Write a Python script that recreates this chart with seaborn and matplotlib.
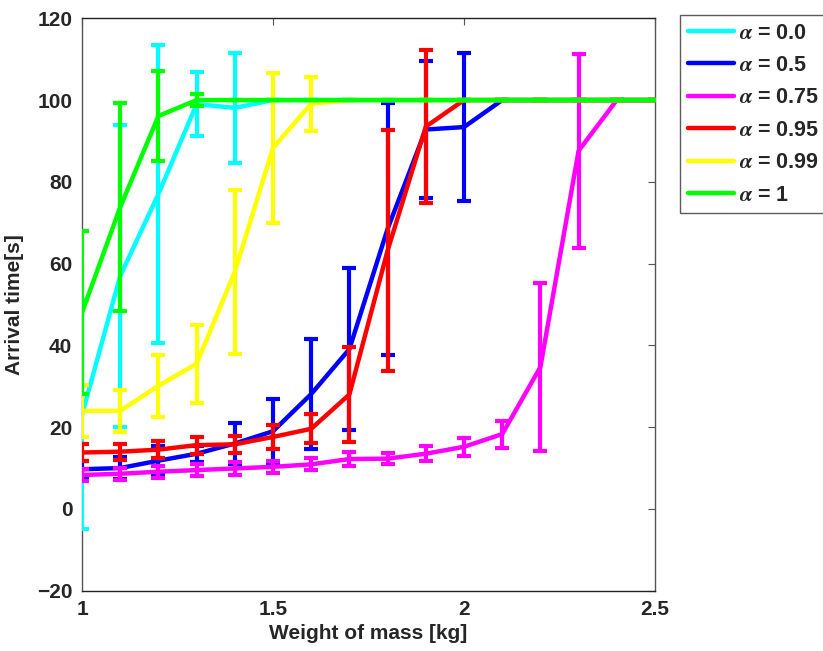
import numpy as np
import pandas as pd
import matplotlib
matplotlib.use("Agg")
import matplotlib.pyplot as plt
import seaborn as sns

# ---- data ----
weights = [1.0, 1.1, 1.2, 1.3, 1.4, 1.5, 1.6, 1.7, 1.8, 1.9, 2.0, 2.1, 2.2, 2.3, 2.4, 2.5]
labels = ["0.0", "0.5", "0.75", "0.95", "0.99", "1"]
colors = ["#00ffff", "#0000ff", "#ff00ff", "#ff0000", "#ffff00", "#00ff00"]

mean_a00 = [23, 57, 77, 99, 98.1, 100, 100, 100, 100, 100, 100, 100, 100, 100, 100, 100]
err_a00 = [28, 37, 36.4, 7.8, 13.5, 0, 0, 0, 0, 0, 0, 0, 0, 0, 0, 0]

mean_a05 = [9.7, 10, 11.8, 13.5, 16, 19, 28.1, 39.1, 68.5, 92.8, 93.4, 100, 100, 100, 100, 100]
err_a05 = [2, 2.8, 3.5, 2, 5, 8, 13.4, 19.8, 30.9, 16.8, 18, 0, 0, 0, 0, 0]

mean_a075 = [8.3, 8.6, 9.1, 9.5, 9.9, 10.3, 10.9, 12.2, 12.3, 13.5, 15.2, 18.3, 34.7, 87.6, 100, 100]
err_a075 = [1.5, 1.5, 1.5, 1.5, 1.5, 1.5, 1.5, 1.8, 1.3, 1.8, 2.2, 3.3, 20.5, 23.7, 0, 0]

mean_a095 = [13.8, 14, 14.5, 15.6, 15.8, 17.6, 19.6, 28, 63.2, 93.5, 100, 100, 100, 100, 100, 100]
err_a095 = [2, 2, 2, 2.1, 2, 2.9, 3.5, 11.7, 29.5, 18.7, 0, 0, 0, 0, 0, 0]

mean_a099 = [24, 24, 30.1, 35.5, 58, 88.3, 99.1, 100, 100, 100, 100, 100, 100, 100, 100, 100]
err_a099 = [6.3, 5.2, 7.5, 9.5, 20, 18.3, 6.6, 0, 0, 0, 0, 0, 0, 0, 0, 0]

mean_a1 = [48, 73.8, 96.1, 100, 100, 100, 100, 100, 100, 100, 100, 100, 100, 100, 100, 100]
err_a1 = [20, 25.5, 10.9, 1.5, 0, 0, 0, 0, 0, 0, 0, 0, 0, 0, 0, 0]

x_ticks = [1, 1.5, 2, 2.5]
x_ticklabels = ["1", "1.5", "2", "2.5"]
y_ticks = [-20, 0, 20, 40, 60, 80, 100, 120]
y_ticklabels = ["\u221220", "0", "20", "40", "60", "80", "100", "120"]

means = [mean_a00, mean_a05, mean_a075, mean_a095, mean_a099, mean_a1]
errs = [err_a00, err_a05, err_a075, err_a095, err_a099, err_a1]

# ---- style ----
sns.set_style("white")
plt.rcParams["font.family"] = ["Liberation Sans", "DejaVu Sans"]
plt.rcParams["font.weight"] = "bold"
plt.rcParams["mathtext.fontset"] = "stix"

fig = plt.figure(figsize=(8.23, 6.51), dpi=100)
W, H = 823, 651
ax = fig.add_axes([82 / W, 1 - 590.7 / H, (655 - 82) / W, (590.7 - 18.3) / H])

rows = []
for lab, m, e in zip(labels, means, errs):
    for xv, mv, ev in zip(weights, m, e):
        rows.append({"weight": xv, "time": mv, "err": ev, "alpha": lab})
df = pd.DataFrame(rows)

for i, (lab, col) in enumerate(zip(labels, colors)):
    sub = df[df["alpha"] == lab]
    z = 3 + i
    ax.errorbar(sub["weight"], sub["time"], yerr=sub["err"], fmt="none",
                ecolor=col, elinewidth=3.0, capsize=4.7, capthick=3.0, zorder=z)
    sns.lineplot(data=sub, x="weight", y="time", color=col, linewidth=3.2,
                 ax=ax, zorder=z + 0.5, errorbar=None, legend=False)

ax.set_xlim(1, 2.5)
ax.set_ylim(-20, 120)
ax.set_xticks(x_ticks)
ax.set_xticklabels(x_ticklabels)
ax.set_yticks(y_ticks)
ax.set_yticklabels(y_ticklabels)
ax.tick_params(direction="in", length=5, width=0.8, color="#555555",
               top=True, right=True, labelsize=15, pad=7)
for lbl in ax.get_xticklabels() + ax.get_yticklabels():
    lbl.set_fontweight("bold")
for sp in ax.spines.values():
    sp.set_linewidth(1.0)
    sp.set_color("#222222")
ax.spines["left"].set_color("#555555")
ax.spines["right"].set_color("#555555")

ax.set_xlabel("Weight of mass [kg]", fontsize=15, fontweight="bold", labelpad=3)
ax.set_ylabel("Arrival time[s]", fontsize=15, fontweight="bold", labelpad=9)

handles = [plt.Line2D([0], [0], color=c, linewidth=3.2) for c in colors]
leg = fig.legend(handles, [r"$\alpha$ = " + l for l in labels],
                 loc="upper left", bbox_to_anchor=(680 / W, 1 - 15 / H),
                 fontsize=15.5, frameon=True, fancybox=False, handlelength=2.15,
                 handletextpad=0.25, labelspacing=0.53, borderpad=0.35,
                 borderaxespad=0)
leg.get_frame().set_edgecolor("#333333")
leg.get_frame().set_linewidth(1.0)
for t in leg.get_texts():
    t.set_fontweight("bold")

fig.savefig("out.png", dpi=100)
